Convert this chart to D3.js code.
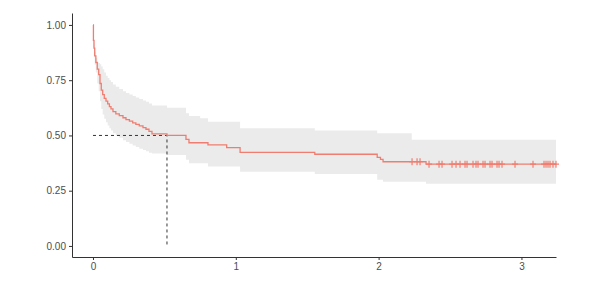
<!DOCTYPE html>
<html>
<head>
<meta charset="utf-8">
<script src="https://cdn.jsdelivr.net/npm/d3@7"></script>
<style>
  body { margin: 0; background: #fff; }
  .axis text { font-family: "Liberation Sans", Arial, sans-serif; font-size: 10px; fill: #4d4d4d; }
  .axis path, .axis line { stroke: #333; }
</style>
</head>
<body>
<div id="chart"></div>
<script>
// survival estimate: time, surv, upper CI, lower CI
var times = [0.000, 0.003, 0.007, 0.012, 0.020, 0.030, 0.040, 0.049, 0.058, 0.068,
             0.079, 0.091, 0.103, 0.115, 0.126, 0.140, 0.160, 0.184, 0.210, 0.231,
             0.255, 0.278, 0.300, 0.324, 0.350, 0.371, 0.392, 0.413, 0.518, 0.651,
             0.672, 0.750, 0.805, 0.936, 1.030, 1.553, 1.990, 2.013, 2.031, 2.232,
             2.332, 3.242];
var surv  = [1.000, 0.930, 0.895, 0.860, 0.830, 0.800, 0.775, 0.735, 0.705, 0.685,
             0.668, 0.655, 0.643, 0.630, 0.620, 0.608, 0.598, 0.590, 0.580, 0.572,
             0.565, 0.557, 0.550, 0.543, 0.535, 0.528, 0.518, 0.507, 0.500, 0.482,
             0.467, 0.467, 0.457, 0.445, 0.423, 0.415, 0.401, 0.392, 0.381, 0.381,
             0.370, 0.370];
var upper = [1.000, 0.950, 0.915, 0.880, 0.850, 0.830, 0.828, 0.822, 0.812, 0.800,
             0.785, 0.770, 0.760, 0.750, 0.742, 0.730, 0.720, 0.710, 0.700, 0.692,
             0.685, 0.678, 0.672, 0.665, 0.658, 0.652, 0.645, 0.635, 0.625, 0.600,
             0.588, 0.578, 0.562, 0.562, 0.533, 0.522, 0.510, 0.510, 0.510, 0.480,
             0.480, 0.480];
var lower = [1.000, 0.900, 0.860, 0.820, 0.785, 0.735, 0.700, 0.655, 0.620, 0.595,
             0.575, 0.560, 0.545, 0.532, 0.522, 0.510, 0.500, 0.490, 0.478, 0.470,
             0.462, 0.455, 0.448, 0.440, 0.434, 0.428, 0.422, 0.418, 0.412, 0.390,
             0.374, 0.374, 0.359, 0.359, 0.336, 0.326, 0.300, 0.300, 0.291, 0.291,
             0.281, 0.281];
// censored observations
var censor_times = [2.234, 2.269, 2.290, 2.353, 2.423, 2.444, 2.514, 2.542, 2.570, 2.605,
                    2.619, 2.661, 2.682, 2.696, 2.731, 2.745, 2.780, 2.794, 2.829, 2.843,
                    2.864, 2.955, 3.081, 3.158, 3.172, 3.186, 3.200, 3.221, 3.242];
var median_time = 0.518;
var x_ticks = [0, 1, 2, 3];
var y_ticks = [0, 0.25, 0.5, 0.75, 1];

var width = 597, height = 281;
var margin = {top: 13, right: 41, bottom: 24, left: 72};

var svg = d3.select("#chart").append("svg")
    .attr("width", width)
    .attr("height", height);

var x = d3.scaleLinear().domain([-0.147, 3.242]).range([margin.left, width - margin.right]);
var y = d3.scaleLinear().domain([-0.05, 1.054]).range([height - margin.bottom, margin.top]);

var data = times.map(function(t, i) {
    return {t: t, s: surv[i], u: upper[i], l: lower[i]};
});

function surv_at(t) {
    var s = 1;
    for (var i = 0; i < data.length; i++) {
        if (data[i].t <= t) s = data[i].s;
    }
    return s;
}

// confidence band
svg.append("path")
    .datum(data)
    .attr("fill", "#ebebeb")
    .attr("d", d3.area()
        .curve(d3.curveStepAfter)
        .x(function(d) { return x(d.t); })
        .y0(function(d) { return y(d.l); })
        .y1(function(d) { return y(d.u); }));

// median lines
svg.append("path")
    .attr("fill", "none")
    .attr("stroke", "#333")
    .attr("stroke-width", 1)
    .attr("stroke-dasharray", "3,3")
    .attr("d", d3.line()([[x(0), y(0.5)], [x(median_time), y(0.5)], [x(median_time), y(0)]]));

// survival curve
svg.append("path")
    .datum(data)
    .attr("fill", "none")
    .attr("stroke", "#f07d70")
    .attr("stroke-width", 1.3)
    .attr("d", d3.line()
        .curve(d3.curveStepAfter)
        .x(function(d) { return x(d.t); })
        .y(function(d) { return y(d.s); }));

// censor marks
svg.selectAll("censor")
    .data(censor_times)
    .enter()
    .append("path")
        .attr("fill", "none")
        .attr("stroke", "#f07d70")
        .attr("stroke-width", 1.2)
        .attr("d", function(d) {
            var cx = x(d), cy = y(surv_at(d));
            return "M" + (cx - 3) + "," + cy + "H" + (cx + 3) +
                   "M" + cx + "," + (cy - 3.5) + "V" + (cy + 3.5);
        });

// axes
svg.append("g")
    .attr("class", "axis")
    .attr("transform", "translate(0," + (height - margin.bottom) + ")")
    .call(d3.axisBottom(x).tickValues(x_ticks).tickSize(3).tickSizeOuter(0).tickPadding(3)
        .tickFormat(d3.format("d")));

svg.append("g")
    .attr("class", "axis")
    .attr("transform", "translate(" + margin.left + ",0)")
    .call(d3.axisLeft(y).tickValues(y_ticks).tickSize(3).tickSizeOuter(0).tickPadding(3)
        .tickFormat(d3.format(".2f")));
</script>
</body>
</html>
